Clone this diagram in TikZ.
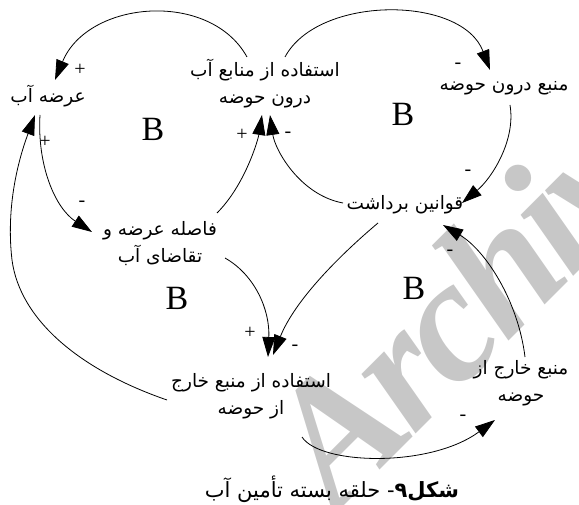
\documentclass[tikz,border=0pt]{standalone}
\usepackage{fontspec}
\usetikzlibrary{arrows.meta}
\TeXXeTstate=1
\newfontfamily\fa[Script=Arabic]{DejaVu Sans}
\newfontfamily\tms{Liberation Serif}
\newcommand\myR[1]{\beginR #1\endR}
\begin{document}
\begin{tikzpicture}[x=1pt,y=-1pt,
  lbl/.style={font=\fa\fontsize{18.5}{27}\selectfont, align=center, inner sep=0pt},
  sgn/.style={font=\tms\fontsize{20}{20}\selectfont, inner sep=0pt},
  loopB/.style={font=\tms\fontsize{34}{34}\selectfont, inner sep=0pt},
  arr/.style={line width=0.8pt, -{Triangle[length=20pt,width=13pt]}},
  wmark/.style={text=black!22, font=\tms\bfseries\itshape\fontsize{175}{175}\selectfont, inner sep=0pt}]
\useasboundingbox (0,0) rectangle (579,505);
\begin{scope}
\clip (0,0) rectangle (579,505);
\node[wmark, rotate=45, anchor=base west] (wm) at (336,514) {A\kern-7pt r\kern-7pt c\kern-7pt h\kern-7pt i\kern-7pt v\kern-7pt e};
\end{scope}
% nodes
\node[lbl] (n1) at (48,96) {\myR{عرضه آب}};
\node[lbl] (n2) at (265,84) {\myR{استفاده از منابع آب}\\\myR{درون حوضه}};
\node[lbl] (n3) at (504,88) {\myR{منبع درون حوضه}};
\node[lbl] (n4) at (405,205) {\myR{قوانین برداشت}};
\node[lbl] (n5) at (160,244) {\myR{فاصله عرضه و}\\\myR{تقاضای آب}};
\node[lbl] (n6) at (251,396) {\myR{استفاده از منبع خارج}\\\myR{از حوضه}};
\node[lbl] (n7) at (521,383) {\myR{منبع خارج از}\\\myR{حوضه}};
\node[font=\fa\fontsize{21}{21}\selectfont, inner sep=0pt] (cap) at (332,489) {\myR{\textbf{شکل۹}- حلقه بسته تأمین آب}};
% loop labels
\node[loopB] (b1) at (153,129) {B};
\node[loopB] (b2) at (403,114) {B};
\node[loopB] (b3) at (177,298) {B};
\node[loopB] (b4) at (414,288) {B};
% connectors
\draw[arr] ([shift={(-18,-27)}]n2.center) .. controls (210,-10) and (88,0) .. ([shift={(7,-16)}]n1.center);
\draw[arr] ([shift={(20,-27)}]n2.center) .. controls (318,-5) and (462,-5) .. ([shift={(-14,-18)}]n3.center);
\draw[arr] ([shift={(6,17)}]n3.center) .. controls (516,140) and (492,178) .. ([shift={(57,-2)}]n4.center);
\draw[arr] ([shift={(-62,-2)}]n4.center) .. controls (300,195) and (275,150) .. ([shift={(5,31)}]n2.center);
\draw[arr] ([shift={(57,-31)}]n5.center) .. controls (245,185) and (258,140) .. ([shift={(-3,31)}]n2.center);
\draw[arr] ([shift={(-8,19)}]n1.center) .. controls (37,165) and (55,208) .. ([shift={(-68,-12)}]n5.center);
\draw[arr] ([shift={(-84,4)}]n6.center) .. controls (80,370) and (20,320) .. (12,260) .. controls (5,200) and (22,150) .. ([shift={(-13,19)}]n1.center);
\draw[arr] ([shift={(65,14)}]n5.center) .. controls (255,275) and (270,310) .. ([shift={(17,-39)}]n6.center);
\draw[arr] ([shift={(-27,18)}]n4.center) .. controls (340,255) and (295,300) .. ([shift={(22,-41)}]n6.center);
\draw[arr] ([shift={(51,41)}]n6.center) .. controls (320,465) and (430,468) .. ([shift={(-26,37)}]n7.center);
\draw[arr] ([shift={(4,-26)}]n7.center) .. controls (518,300) and (485,250) .. ([shift={(38,20)}]n4.center);
% polarity signs
\node[sgn] (s1) at (80,70) {+};
\node[sgn] (s2) at (458,66) {-};
\node[sgn] (s3) at (468,173) {-};
\node[sgn] (s4) at (288,135) {-};
\node[sgn] (s5) at (242,135) {+};
\node[sgn] (s6) at (82,204) {-};
\node[sgn] (s7) at (45,142) {+};
\node[sgn] (s8) at (250,333) {+};
\node[sgn] (s9) at (295,348) {-};
\node[sgn] (s10) at (463,418) {-};
\node[sgn] (s11) at (450,253) {-};
\end{tikzpicture}
\end{document}
